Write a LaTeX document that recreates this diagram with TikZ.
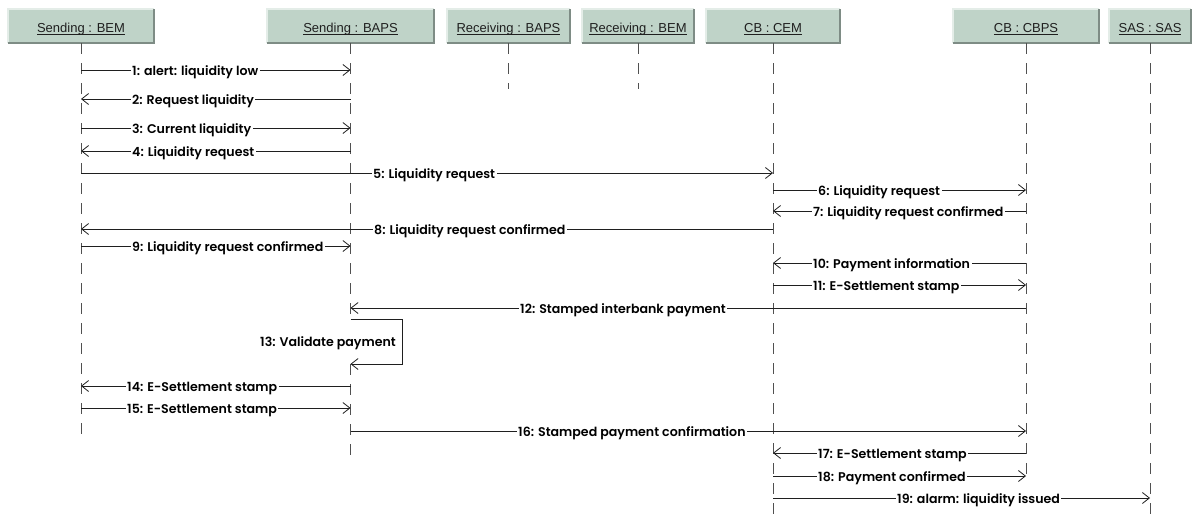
\documentclass[tikz,border=0pt]{standalone}
\usepackage{fontspec}
\setmainfont{Liberation Sans}
\newfontfamily\msgfont{Poppins SemiBold}
\usetikzlibrary{arrows.meta}
\definecolor{boxfill}{HTML}{BFD3C8}
\definecolor{boxlight}{HTML}{E4EDE8}
\definecolor{boxdark}{HTML}{7E8C85}
\definecolor{lifegray}{HTML}{505050}
\newcommand\hul[1]{\setbox0\hbox{#1}\rlap{\rule[-2.6pt]{\wd0}{0.9pt}}\box0}
\begin{document}
\begin{tikzpicture}[x=1pt,y=-1pt,
  hdr/.style={fill=boxfill, minimum height=34pt, inner sep=0pt, text height=15pt, text depth=1.6pt,
    font=\fontsize{13}{15}\selectfont, text=black!88},
  hilite/.style={draw=boxlight, line width=1.5pt},
  shadow/.style={draw=boxdark, line width=1.5pt},
  lifeline/.style={draw=lifegray, line width=0.9pt, dash pattern=on 11pt off 9pt},
  msg/.style={draw=black!88, line width=0.8pt},
  arr/.style={msg, -{Straight Barb[length=7pt,width=11pt,line width=0.8pt]}},
  lbl/.style={fill=white, inner xsep=1.5pt, inner ysep=1pt, anchor=base west,
    font=\msgfont\fontsize{12.6}{14}\selectfont},
  lblr/.style={lbl, anchor=base east}
]
\useasboundingbox (0,0) rectangle (1193,520);
\fill[white] (0,0) rectangle (1193,520);

% headers
\node[hdr, minimum width=146pt] (bem)   at (81,26)    {\hul{Sending : BEM}};
\node[hdr, minimum width=167pt] (baps)  at (350.5,26) {\hul{Sending : BAPS}};
\node[hdr, minimum width=123pt] (rbaps) at (508.5,26) {\hul{Receiving : BAPS}};
\node[hdr, minimum width=112pt] (rbem)  at (638,26)   {\hul{Receiving : BEM}};
\node[hdr, minimum width=134pt] (cem)   at (773,26)   {\hul{CB : CEM}};
\node[hdr, minimum width=146pt] (cbps)  at (1026,26)  {\hul{CB : CBPS}};
\node[hdr, minimum width=82pt]  (sas)   at (1150,26)  {\hul{SAS : SAS}};
\foreach \n in {bem,baps,rbaps,rbem,cem,cbps,sas}{
  \draw[hilite] (\n.south west) |- (\n.north east);
  \draw[shadow] (\n.south west) -| (\n.north east);
}

% lifelines
\coordinate (bemE) at (81,434);
\coordinate (bapsA) at (350.5,319);
\coordinate (bapsB) at (350.5,364);
\coordinate (bapsE) at (350.5,457);
\coordinate (rbapsE) at (508.5,89);
\coordinate (rbemE) at (638,89);
\coordinate (cemE) at (773,520);
\coordinate (cbpsE) at (1026,480);
\coordinate (sasE) at (1150,520);
\draw[lifeline] (bem.south) -- (bemE);
\draw[lifeline] (baps.south) -- (bapsA);
\draw[lifeline] (bapsB) -- (bapsE);
\draw[lifeline] (rbaps.south) -- (rbapsE);
\draw[lifeline] (rbem.south) -- (rbemE);
\draw[lifeline] (cem.south) -- (cemE);
\draw[lifeline] (cbps.south) -- (cbpsE);
\draw[lifeline] (sas.south) -- (sasE);

% messages
\draw[arr] (bem |- 0,70) -- (baps |- 0,70);
\node[lbl] (m1) at (130.5,75) {1: alert: liquidity low};
\draw[arr] (baps |- 0,99) -- (bem |- 0,99);
\node[lbl] (m2) at (130.5,104) {2: Request liquidity};
\draw[arr] (bem |- 0,128) -- (baps |- 0,128);
\node[lbl] (m3) at (130.5,133) {3: Current liquidity};
\draw[arr] (baps |- 0,151) -- (bem |- 0,151);
\node[lbl] (m4) at (130.5,156) {4: Liquidity request};
\draw[arr] (bem |- 0,173) -- (cem |- 0,173);
\node[lbl] (m5) at (371.5,178) {5: Liquidity request};
\draw[arr] (cem |- 0,190) -- (cbps |- 0,190);
\node[lbl] (m6) at (816.5,195) {6: Liquidity request};
\draw[arr] (cbps |- 0,211) -- (cem |- 0,211);
\node[lbl] (m7) at (811.5,216) {7: Liquidity request confirmed};
\draw[arr] (cem |- 0,229) -- (bem |- 0,229);
\node[lbl] (m8) at (372.5,234) {8: Liquidity request confirmed};
\draw[arr] (bem |- 0,246) -- (baps |- 0,246);
\node[lbl] (m9) at (130.5,251) {9: Liquidity request confirmed};
\draw[arr] (cbps |- 0,263) -- (cem |- 0,263);
\node[lbl] (m10) at (811.5,268) {10: Payment information};
\draw[arr] (cem |- 0,285) -- (cbps |- 0,285);
\node[lbl] (m11) at (811.5,290) {11: E-Settlement stamp};
\draw[arr] (cbps |- 0,308) -- (baps |- 0,308);
\node[lbl] (m12) at (518.5,313) {12: Stamped interbank payment};
\coordinate (loopC) at (402,364);
\draw[arr] (bapsA) -| (loopC) -- (bapsB);
\node[lblr] (m13) at (397.5,346) {13: Validate payment};
\draw[arr] (baps |- 0,386) -- (bem |- 0,386);
\node[lbl] (m14) at (125.5,391) {14: E-Settlement stamp};
\draw[arr] (bem |- 0,408) -- (baps |- 0,408);
\node[lbl] (m15) at (125.5,413) {15: E-Settlement stamp};
\draw[arr] (baps |- 0,431) -- (cbps |- 0,431);
\node[lbl] (m16) at (516.5,436) {16: Stamped payment confirmation};
\draw[arr] (cbps |- 0,453) -- (cem |- 0,453);
\node[lbl] (m17) at (816.5,458) {17: E-Settlement stamp};
\draw[arr] (cem |- 0,476) -- (cbps |- 0,476);
\node[lbl] (m18) at (816.5,481) {18: Payment confirmed};
\draw[arr] (cem |- 0,498) -- (sas |- 0,498);
\node[lbl] (m19) at (895.5,503) {19: alarm: liquidity issued};
\end{tikzpicture}
\end{document}
